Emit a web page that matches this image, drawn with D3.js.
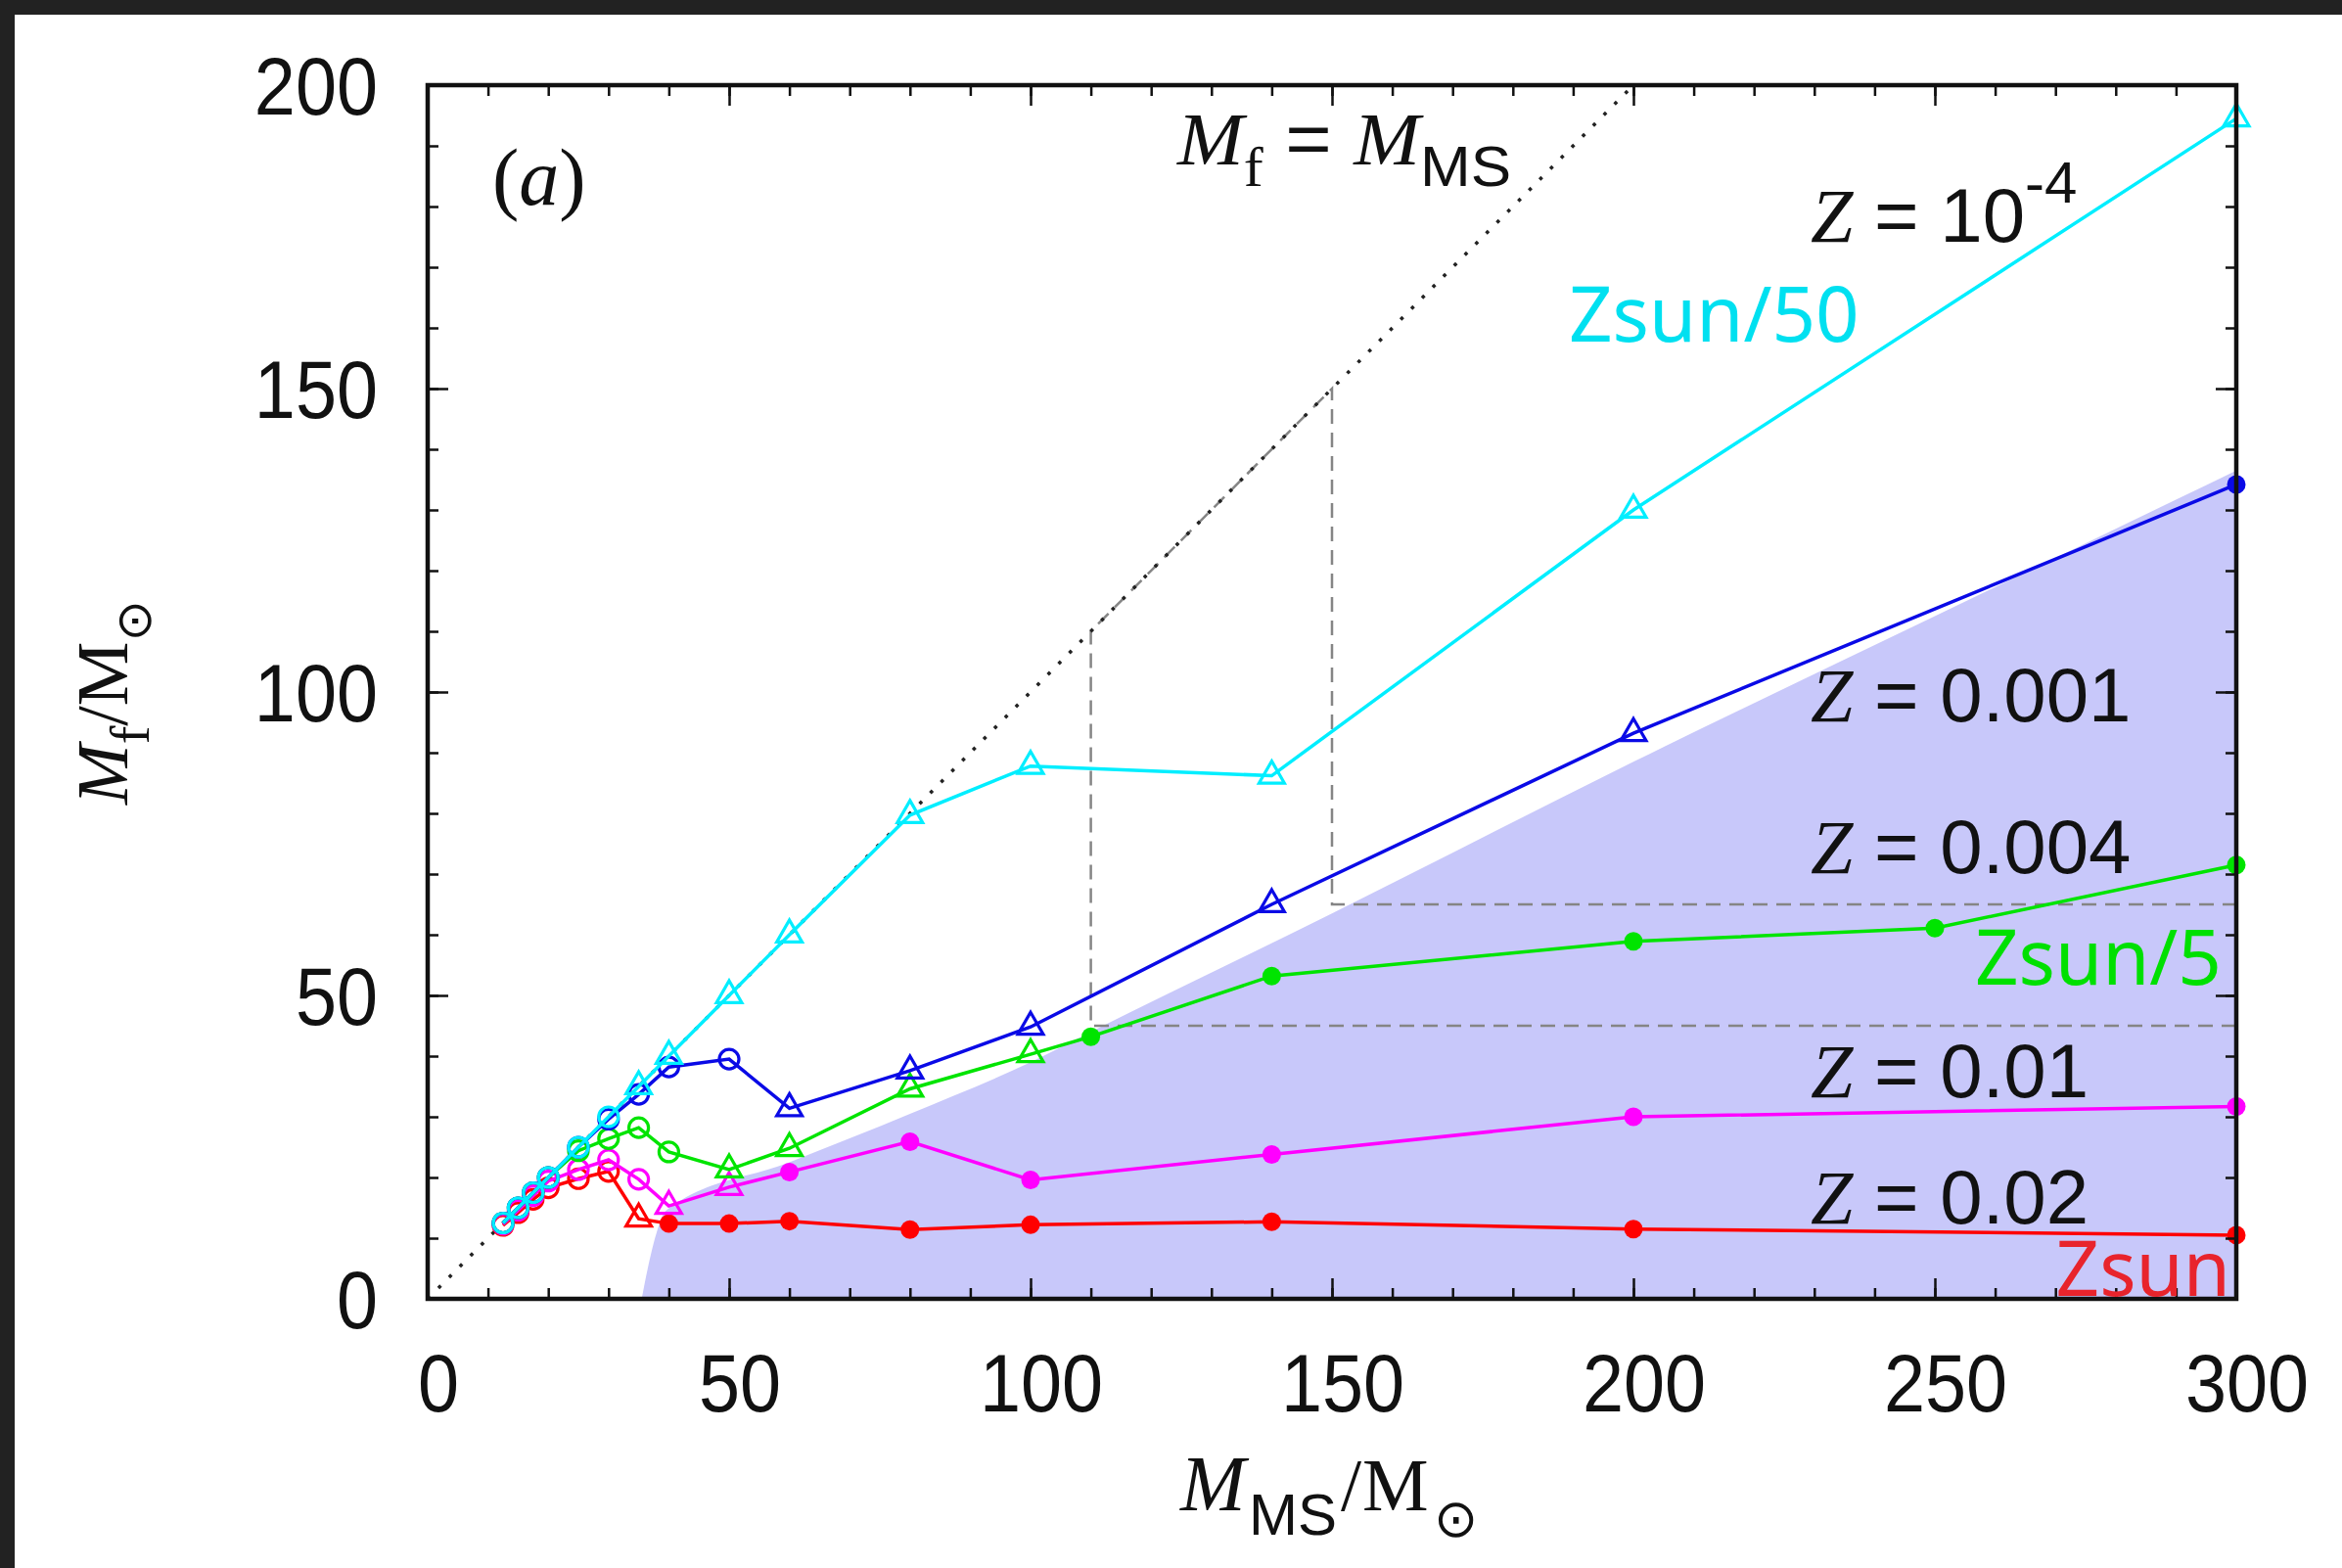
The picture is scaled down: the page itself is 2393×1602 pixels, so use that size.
<!DOCTYPE html>
<html>
<head>
<meta charset="utf-8">
<script src="https://d3js.org/d3.v7.min.js"></script>
<style>
  body { margin: 0; background: #fff; }
  svg { display: block; }
  .tick line { stroke: #111; stroke-width: 2.5; }
</style>
</head>
<body>
<svg id="chart" width="2393" height="1602"></svg>
<script>
// ---- data ----
// initial (main sequence) masses of the tracks
const massCommon = [12.5, 15, 17.5, 20, 25, 30, 35, 40, 50, 60, 80, 100, 140, 200, 300]
const massZ004   = [12.5, 15, 17.5, 20, 25, 30, 35, 40, 50, 60, 80, 100, 110, 140, 200, 250, 300]

// final masses, one array per metallicity
const finalZ0001 = [12.5, 15, 17.5, 20, 25, 30, 35, 40, 50, 60, 79.7, 87.8, 86.2, 130, 194.5]
const finalZ001  = [12.5, 15, 17.5, 20, 25, 29.6, 33.7, 38.2, 39.5, 31.4, 37.6, 44.8, 65, 93.2, 134.2]
const finalZ004  = [12.5, 15, 17.5, 20, 24.4, 26.4, 28.2, 24.2, 21.3, 24.8, 34.6, 40.3, 43.2, 53.2, 58.9, 61.1, 71.5]
const finalZ01   = [12.3, 14.6, 17, 19.4, 21.3, 22.9, 19.7, 15.3, 18.4, 20.9, 25.9, 19.6, 23.8, 30, 31.7]
const finalZ02   = [12.1, 14.2, 16.4, 18.3, 19.8, 21, 13.2, 12.4, 12.4, 12.8, 11.4, 12.2, 12.7, 11.5, 10.5]

// point style per point: o = open circle, t = open triangle, f = filled circle
const markZ0001 = "oooooottttttttt"
const markZ001  = "oooooooootttttf"
const markZ004  = "oooooooottttfffff"
const markZ01   = "ooooooottffffff"
const markZ02   = "ooooootffffffff"

// shaded region upper edge
const shadeMass  = [35.5, 36.5, 38, 39.5, 60, 80, 100, 110, 150, 200, 250, 300]
const shadeFinal = [0, 5, 11, 14.5, 22.5, 30.5, 39, 44, 63.5, 88.5, 112.5, 136.5]

// grey dashed limits
const limitMass  = [300, 110, 110, 150, 150, 300]
const limitFinal = [45, 45, 110, 150, 65, 65]

// M_f = M_MS line
const identity = [0, 200]

// ticks
const xMajor = [0, 50, 100, 150, 200, 250, 300]
const yMajor = [0, 50, 100, 150, 200]
const xMinor = d3.range(0, 301, 10)
const yMinor = d3.range(0, 201, 10)

// ---- layout ----
const svg = d3.select("#chart")
const x = d3.scaleLinear().domain([0, 300]).range([437, 2285])
const y = d3.scaleLinear().domain([0, 200]).range([1327, 87])

svg.append("rect").attr("width", 2393).attr("height", 1602).attr("fill", "#fff")
svg.append("rect").attr("width", 2393).attr("height", 15).attr("fill", "#222")
svg.append("rect").attr("width", 15).attr("height", 1602).attr("fill", "#222")

// shaded region
const shade = shadeMass.map((m, i) => [m, shadeFinal[i]])
svg.append("path")
  .datum(shade)
  .attr("fill", "#c8c8fa")
  .attr("d", d3.area().x(d => x(d[0])).y0(y(0)).y1(d => y(d[1])).curve(d3.curveMonotoneX))

// grey dashed limits
svg.append("path")
  .datum(limitMass.map((m, i) => [m, limitFinal[i]]))
  .attr("fill", "none").attr("stroke", "#858585").attr("stroke-width", 2.5)
  .attr("stroke-dasharray", "15,9")
  .attr("d", d3.line().x(d => x(d[0])).y(d => y(d[1])))

// dotted identity
svg.append("path")
  .datum(identity.map(v => [v, v]))
  .attr("fill", "none").attr("stroke", "#222").attr("stroke-width", 3.5)
  .attr("stroke-dasharray", "3.5,12")
  .attr("d", d3.line().x(d => x(d[0])).y(d => y(d[1])))

// series
const series = [
  { mass: massCommon, fin: finalZ02,   marks: markZ02,   color: "#ff0000" },
  { mass: massCommon, fin: finalZ01,   marks: markZ01,   color: "#ff00ff" },
  { mass: massZ004,   fin: finalZ004,  marks: markZ004,  color: "#00e400" },
  { mass: massCommon, fin: finalZ001,  marks: markZ001,  color: "#0a0ae6" },
  { mass: massCommon, fin: finalZ0001, marks: markZ0001, color: "#00eeff" }
]
const tri = d3.symbol().type(d3.symbolTriangle).size(290)

series.forEach(s => {
  const pts = s.mass.map((m, i) => ({ m: m, f: s.fin[i], k: s.marks[i] }))
  const g = svg.append("g")
  g.append("path").datum(pts)
    .attr("fill", "none").attr("stroke", s.color).attr("stroke-width", 3.5)
    .attr("d", d3.line().x(d => x(d.m)).y(d => y(d.f)))
  g.selectAll("circle.open").data(pts.filter(d => d.k === "o")).enter()
    .append("circle").attr("class", "open")
    .attr("cx", d => x(d.m)).attr("cy", d => y(d.f)).attr("r", 10)
    .attr("fill", "none").attr("stroke", s.color).attr("stroke-width", 3.2)
  g.selectAll("path.tri").data(pts.filter(d => d.k === "t")).enter()
    .append("path").attr("class", "tri")
    .attr("transform", d => `translate(${x(d.m)},${y(d.f)})`)
    .attr("d", tri)
    .attr("fill", "none").attr("stroke", s.color).attr("stroke-width", 3.2)
  g.selectAll("circle.fill").data(pts.filter(d => d.k === "f")).enter()
    .append("circle").attr("class", "fill")
    .attr("cx", d => x(d.m)).attr("cy", d => y(d.f)).attr("r", 9.5)
    .attr("fill", s.color)
})

// axes: ticks on all four sides, pointing inward
function ticks(axis, tr) {
  const g = svg.append("g").attr("transform", tr).call(axis)
  g.select(".domain").remove()
}
ticks(d3.axisBottom(x).tickValues(xMinor).tickSize(-11).tickFormat(""), `translate(0,${y(0)})`)
ticks(d3.axisBottom(x).tickValues(xMajor).tickSize(-21).tickFormat(""), `translate(0,${y(0)})`)
ticks(d3.axisTop(x).tickValues(xMinor).tickSize(-11).tickFormat(""), `translate(0,${y(200)})`)
ticks(d3.axisTop(x).tickValues(xMajor).tickSize(-21).tickFormat(""), `translate(0,${y(200)})`)
ticks(d3.axisLeft(y).tickValues(yMinor).tickSize(-11).tickFormat(""), `translate(${x(0)},0)`)
ticks(d3.axisLeft(y).tickValues(yMajor).tickSize(-21).tickFormat(""), `translate(${x(0)},0)`)
ticks(d3.axisRight(y).tickValues(yMinor).tickSize(-11).tickFormat(""), `translate(${x(300)},0)`)
ticks(d3.axisRight(y).tickValues(yMajor).tickSize(-21).tickFormat(""), `translate(${x(300)},0)`)

svg.append("rect")
  .attr("x", x(0)).attr("y", y(200))
  .attr("width", x(300) - x(0)).attr("height", y(0) - y(200))
  .attr("fill", "none").attr("stroke", "#111").attr("stroke-width", 4.5)

// ---- text ----
const SERIF = "'Liberation Serif', 'Times New Roman', serif"
const SANS = "'Liberation Sans', Arial, sans-serif"
const NOTO = "'Noto Sans', 'Open Sans', sans-serif"

// parts: [text, family, size, italic, baseline offset, local x]
function label(tr, parts, opts) {
  opts = opts || {}
  const t = svg.append("text").attr("transform", tr)
    .attr("text-anchor", opts.anchor || "start")
    .attr("fill", opts.fill || "#111")
  let base = 0
  parts.forEach(p => {
    const ts = t.append("tspan")
      .attr("font-family", p[1]).attr("font-size", p[2])
      .attr("font-style", p[3] ? "italic" : "normal")
      .attr("dy", (p[4] || 0) - base)
      .text(p[0])
    if (p[5] !== undefined) ts.attr("x", p[5])
    base = p[4] || 0
  })
  return t
}

xMajor.forEach(v => label(`translate(${x(v) + 11},1442) scale(0.9,1)`, [[String(v), SANS, 84]], { anchor: "middle" }))
yMajor.forEach(v => label(`translate(386,${y(v) + 30}) scale(0.9,1)`, [[String(v), SANS, 84]], { anchor: "end" }))

// axis titles
label("translate(1206,1543)", [
  ["M", SERIF, 80, true, 0, 0], ["MS", SANS, 60, false, 25, 70], ["/", SERIF, 76, false, 0, 164],
  ["M", SERIF, 76, false, 0, 186], ["\u2299", "'DejaVu Sans'", 54, false, 27, 259]
])
label("translate(130,822) rotate(-90)", [
  ["M", SERIF, 74, true], ["f", SERIF, 56, false, 22], ["/", SERIF, 74, false, 0],
  ["M", SERIF, 74, false, 0], ["\u2299", "'DejaVu Sans'", 50, false, 24]
])

// panel tag
label("translate(503,209)", [["(", SERIF, 82], ["a", SERIF, 82, true], [")", SERIF, 82]])

// identity line label
label("translate(1203,168) scale(1.07,1)", [
  ["M", SERIF, 76, true], ["f", SERIF, 56, false, 22], [" = ", SANS, 76, false, 0],
  ["M", SERIF, 76, true, 0], ["MS", SANS, 58, false, 22]
])

// metallicity labels
label("translate(1850,247)", [["Z", SERIF, 78, true], [" = 10", SANS, 78], ["-4", SANS, 60, false, -40]])
label("translate(1850,737)", [["Z", SERIF, 78, true], [" = 0.001", SANS, 78]])
label("translate(1850,892)", [["Z", SERIF, 78, true], [" = 0.004", SANS, 78]])
label("translate(1850,1121)", [["Z", SERIF, 78, true], [" = 0.01", SANS, 78]])
label("translate(1850,1250)", [["Z", SERIF, 78, true], [" = 0.02", SANS, 78]])

label("translate(1603,349)", [["Zsun/50", NOTO, 78]], { fill: "#00e0f0" })
label("translate(2270,1006)", [["Zsun/5", NOTO, 78]], { fill: "#00e000", anchor: "end" })
label("translate(2279,1324)", [["Zsun", NOTO, 78]], { fill: "#e8242c", anchor: "end" })
</script>
</body>
</html>
